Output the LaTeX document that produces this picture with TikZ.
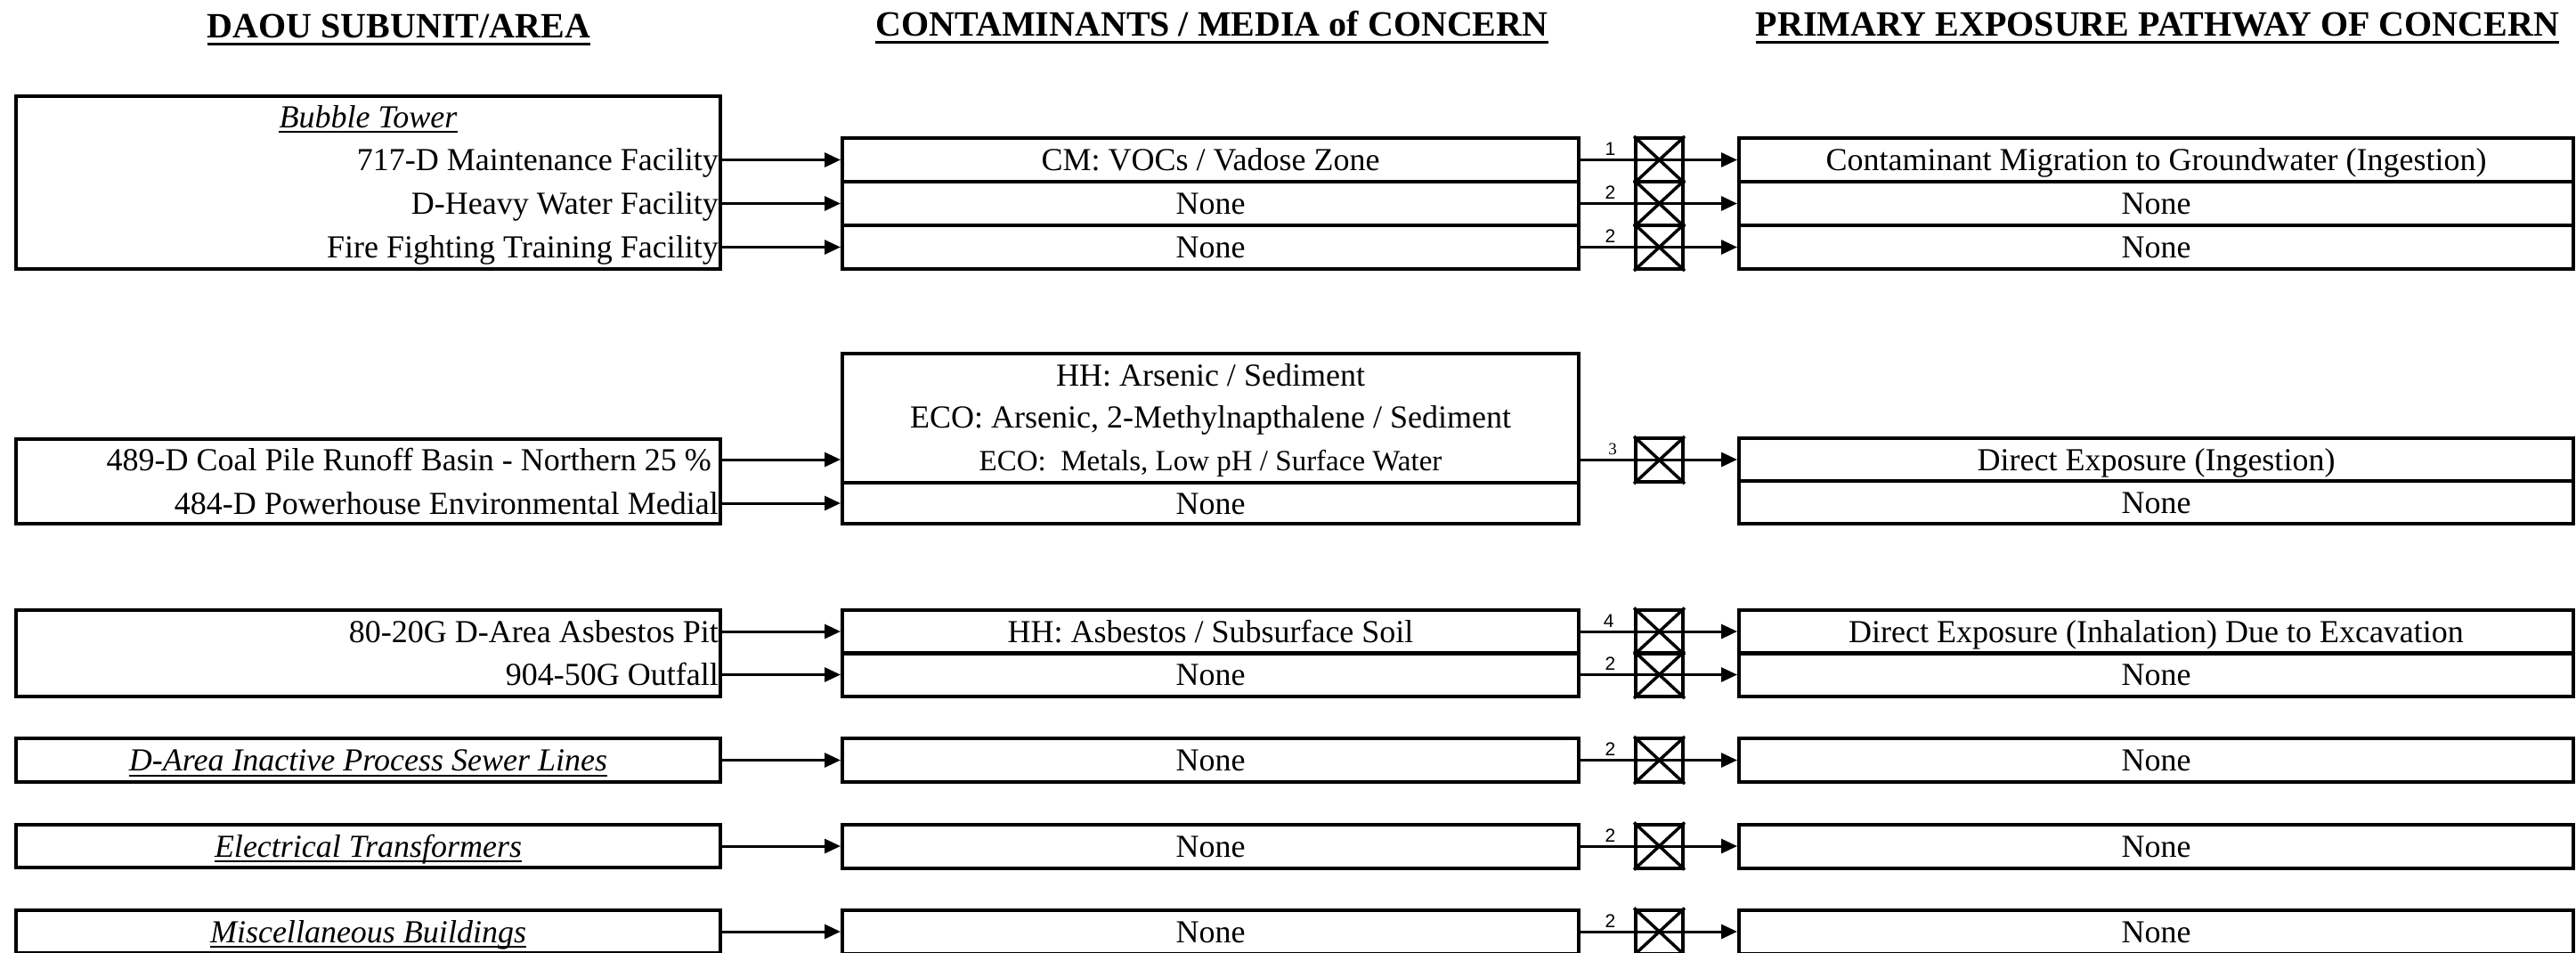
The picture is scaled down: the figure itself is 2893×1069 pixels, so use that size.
\documentclass[tikz,border=0pt]{standalone}
\usepackage{fontspec}
\setmainfont{Liberation Serif}
\newfontfamily\labsans{Liberation Sans}
\usetikzlibrary{arrows.meta}
\begin{document}
\begin{tikzpicture}[x=1pt,y=-1pt,
  body/.style={font=\fontsize{36}{43}\selectfont},
  cell/.style={draw, line width=4pt, inner sep=0pt, text height=27pt, text depth=3pt, body},
  mcell/.style={cell, minimum width=827pt, minimum height=49pt},
  rcell/.style={cell, minimum width=937pt, minimum height=49pt},
  lbox/.style={draw, line width=4pt, minimum width=791pt, inner sep=0pt},
  xbox/.style={draw, line width=4pt, minimum width=53pt, minimum height=49pt, inner sep=0pt},
  xline/.style={line width=3.5pt},
  arr/.style={line width=3pt, -{Triangle[length=18pt,width=16pt]}},
  txt/.style={inner sep=0pt, text height=27pt, text depth=3pt, body},
  itxt/.style={txt, font=\fontsize{36}{43}\selectfont\itshape},
  head/.style={inner sep=0pt, anchor=base, font=\fontsize{40}{48}\selectfont\bfseries},
  hline/.style={line width=3pt},
  uline/.style={line width=2pt},
  lab/.style={inner sep=3.5pt, above, font=\labsans\fontsize{21}{25}\selectfont},
  labserif/.style={inner sep=3.5pt, above, font=\fontsize{19}{23}\selectfont},
]
\useasboundingbox (0,0) rectangle (2893,1069);

% headers
\node[head] (h1) at (448,42) {DAOU SUBUNIT/AREA};
\node[head] (h2) at (1361,40) {CONTAMINANTS / MEDIA of CONCERN};
\node[head] (h3) at (2423,40) {PRIMARY EXPOSURE PATHWAY OF CONCERN};
\foreach \h in {h1,h2,h3}
  \draw[hline] ([yshift=-7pt]\h.base west) -- ([yshift=-7pt]\h.base east);

% ---------- middle column ----------
\node[mcell] (m1) at (1359.5,179.5) {CM: VOCs / Vadose Zone};
\node[mcell] (m2) at (1359.5,228.5) {None};
\node[mcell] (m3) at (1359.5,277.5) {None};
\node[mcell, minimum height=145pt] (m4) at (1359.5,469.5) {};
\node[mcell, minimum height=46pt] (m5) at (1359.5,565) {None};
\node[mcell] (m6) at (1359.5,709) {HH: Asbestos / Subsurface Soil};
\node[mcell] (m7) at (1359.5,757.5) {None};
\node[mcell] (m8) at (1359.5,853.5) {None};
\node[mcell] (m9) at (1359.5,950) {None};
\node[mcell] (m10) at (1359.5,1046) {None};

\node[body, inner sep=0pt, anchor=base] (m4a) at (1359.5,433) {HH: Arsenic / Sediment};
\node[body, inner sep=0pt, anchor=base] (m4b) at (1359.5,480) {ECO: Arsenic, 2-Methylnapthalene / Sediment};
\node[inner sep=0pt, anchor=base, font=\fontsize{33}{40}\selectfont] (m4c) at (1359.5,528) {ECO:\ \ Metals, Low pH / Surface Water};

% ---------- right column ----------
\node[rcell] (r1) at (2421.5,179.5) {Contaminant Migration to Groundwater (Ingestion)};
\node[rcell] (r2) at (2421.5,228.5) {None};
\node[rcell] (r3) at (2421.5,277.5) {None};
\node[rcell, minimum height=48pt] (r4) at (2421.5,516) {Direct Exposure (Ingestion)};
\node[rcell, minimum height=48pt] (r5) at (2421.5,564) {None};
\node[rcell] (r6) at (2421.5,709) {Direct Exposure (Inhalation) Due to Excavation};
\node[rcell] (r7) at (2421.5,757.5) {None};
\node[rcell] (r8) at (2421.5,853.5) {None};
\node[rcell] (r9) at (2421.5,950) {None};
\node[rcell] (r10) at (2421.5,1046) {None};

% ---------- cross boxes ----------
\node[xbox] (x1) at (1863.5,179.5) {};
\node[xbox] (x2) at (1863.5,228.5) {};
\node[xbox] (x3) at (1863.5,277.5) {};
\node[xbox] (x4) at (1863.5,516.5) {};
\node[xbox] (x6) at (1863.5,709) {};
\node[xbox] (x7) at (1863.5,757.5) {};
\node[xbox] (x8) at (1863.5,853.5) {};
\node[xbox] (x9) at (1863.5,950) {};
\node[xbox] (x10) at (1863.5,1046) {};
\foreach \x in {x1,x2,x3,x4,x6,x7,x8,x9,x10}
  \draw[xline] (\x.north west) -- (\x.south east) (\x.north east) -- (\x.south west);

% ---------- left column ----------
\node[lbox, minimum height=194pt] (L1) at (413.5,205) {};
\node[lbox, minimum height=95pt] (L2) at (413.5,540.5) {};
\node[lbox, minimum height=97pt] (L3) at (413.5,733.5) {};
\node[lbox, minimum height=49pt] (L4) at (413.5,853.5) {};
\node[lbox, minimum height=48pt] (L5) at (413.5,950) {};
\node[lbox, minimum height=48pt] (L6) at (413.5,1046) {};

\node[itxt, anchor=base] (bt) at (413.5,143) {Bubble Tower};
\node[txt, anchor=east, xshift=-4pt] (l1) at (L1.east |- m1) {717-D Maintenance Facility};
\node[txt, anchor=east, xshift=-4pt] (l2) at (L1.east |- m2) {D-Heavy Water Facility};
\node[txt, anchor=east, xshift=-4pt] (l3) at (L1.east |- m3) {Fire Fighting Training Facility};
\node[txt, anchor=east, xshift=-12pt] (l4) at (L2.east |- r4) {489-D Coal Pile Runoff Basin - Northern 25 \%};
\node[txt, anchor=east, xshift=-4pt] (l5) at (L2.east |- m5) {484-D Powerhouse Environmental Medial};
\node[txt, anchor=east, xshift=-4pt] (l6) at (L3.east |- m6) {80-20G D-Area Asbestos Pit};
\node[txt, anchor=east, xshift=-4pt] (l7) at (L3.east |- m7) {904-50G Outfall};
\node[itxt] (t8) at (L4.center) {D-Area Inactive Process Sewer Lines};
\node[itxt] (t9) at (L5.center) {Electrical Transformers};
\node[itxt] (t10) at (L6.center) {Miscellaneous Buildings};
\foreach \t in {bt,t8,t9,t10}
  \draw[uline] ([yshift=-5pt]\t.base west) -- ([yshift=-5pt]\t.base east);

% ---------- arrows left -> middle ----------
\draw[arr] (L1.east |- m1) -- (m1.west);
\draw[arr] (L1.east |- m2) -- (m2.west);
\draw[arr] (L1.east |- m3) -- (m3.west);
\draw[arr] (L2.east |- r4) -- (m4.west |- r4);
\draw[arr] (L2.east |- m5) -- (m5.west);
\draw[arr] (L3.east |- m6) -- (m6.west);
\draw[arr] (L3.east |- m7) -- (m7.west);
\draw[arr] (L4.east) -- (m8.west);
\draw[arr] (L5.east) -- (m9.west);
\draw[arr] (L6.east) -- (m10.west);

% ---------- arrows middle -> right ----------
\draw[arr] (m1.east) -- node[lab, pos=0.19] {1} (r1.west);
\draw[arr] (m2.east) -- node[lab, pos=0.19] {2} (r2.west);
\draw[arr] (m3.east) -- node[lab, pos=0.19] {2} (r3.west);
\draw[arr] (m4.east |- r4) -- node[labserif, pos=0.205] {3} (r4.west);
\draw[arr] (m6.east) -- node[lab, pos=0.18] {4} (r6.west);
\draw[arr] (m7.east) -- node[lab, pos=0.19] {2} (r7.west);
\draw[arr] (m8.east) -- node[lab, pos=0.19] {2} (r8.west);
\draw[arr] (m9.east) -- node[lab, pos=0.19] {2} (r9.west);
\draw[arr] (m10.east) -- node[lab, pos=0.19] {2} (r10.west);
\end{tikzpicture}
\end{document}
